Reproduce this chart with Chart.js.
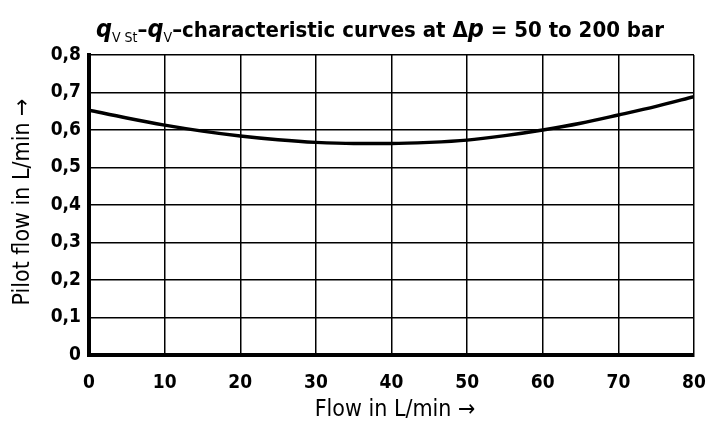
<!DOCTYPE html>
<html><head><meta charset="utf-8">
<script src="https://cdn.jsdelivr.net/npm/chart.js@4"></script>
<style>html,body{margin:0;padding:0;background:#fff}#wrap{width:712px;height:424px}</style>
</head><body><div id="wrap"><canvas id="c" width="712" height="424"></canvas></div>
<script>
const flowValues = [0,5,10,15,20,25,30,35,40,45,50,55,60,65,70,75,80];
const pilotValues = [0.653,0.632,0.613,0.597,0.584,0.574,0.567,0.564,0.564,0.567,0.573,0.585,0.600,0.618,0.640,0.663,0.689];
const xTicks = [0,10,20,30,40,50,60,70,80];
const yTicks = [0,0.1,0.2,0.3,0.4,0.5,0.6,0.7,0.8];
const xTitle = 'Flow in L/min \u2192';
const yTitle = 'Pilot flow in L/min \u2192';

const FF = "'Liberation Sans Narrow','DejaVu Sans Condensed',sans-serif";

const titlePlugin = {
  id:'customText',
  afterDraw(chart){
    const ctx = chart.ctx;
    ctx.save();
    ctx.fillStyle = '#000';
    ctx.textBaseline = 'alphabetic';
    const parts = [
      {t:'q', f:'italic bold 25px '+FF, dy:0},
      {t:'V St', f:'14px '+FF, dy:5},
      {t:'\u2013', f:'bold 22px '+FF, dy:0},
      {t:'q', f:'italic bold 25px '+FF, dy:0},
      {t:'V', f:'14px '+FF, dy:5},
      {t:'\u2013characteristic curves at \u0394', f:'bold 22px '+FF, dy:0},
      {t:'p', f:'italic bold 25px '+FF, dy:0},
      {t:' = 50 to 200 bar', f:'bold 22px '+FF, dy:0}
    ];
    let total = 0;
    parts.forEach(p=>{ctx.font=p.f; p.w=ctx.measureText(p.t).width; total+=p.w;});
    let x = 380 - total/2;
    const base = 37;
    parts.forEach(p=>{ctx.font=p.f; ctx.textAlign='left'; ctx.fillText(p.t,x,base+p.dy); x+=p.w;});
    ctx.font = '23px '+FF;
    ctx.textAlign = 'center';
    ctx.textBaseline = 'middle';
    ctx.fillText(xTitle, 395, 410);
    ctx.translate(23, 202);
    ctx.rotate(-Math.PI/2);
    ctx.fillText(yTitle, 0, 0);
    ctx.restore();
  }
};

new Chart(document.getElementById('c'), {
  type:'line',
  data:{
    datasets:[{
      data: flowValues.map((x,i)=>({x:x, y:pilotValues[i]})),
      borderColor:'#000',
      borderWidth:3.5,
      pointRadius:0,
      tension:0.4,
      cubicInterpolationMode:'monotone',
      fill:false
    }]
  },
  options:{
    responsive:false,
    animation:false,
    devicePixelRatio:1,
    layout:{padding:{top:55,right:18,left:0,bottom:0}},
    plugins:{legend:{display:false},tooltip:{enabled:false},title:{display:false}},
    scales:{
      x:{
        type:'linear', min:0, max:80,
        afterBuildTicks(s){ s.ticks = xTicks.map(v=>({value:v})); },
        afterFit(s){ s.height = 69; s.paddingLeft = 0; s.paddingRight = 0; },
        grid:{color:'#000', lineWidth:1.5, drawTicks:false},
        border:{color:'#000', width:4},
        ticks:{color:'#000', padding:17, font:{family:FF, size:19, weight:'bold'}, maxRotation:0,
          callback:(v)=>String(v)}
      },
      y:{
        type:'linear', min:0, max:0.8,
        afterBuildTicks(s){ s.ticks = yTicks.map(v=>({value:v})); },
        afterFit(s){ s.width = 89; s.paddingTop = 0; s.paddingBottom = 0; },
        grid:{color:'#000', lineWidth:1.5, drawTicks:false},
        border:{color:'#000', width:4},
        ticks:{color:'#000', padding:8, font:{family:FF, size:19, weight:'bold'},
          callback:(v)=> v===0 ? '0' : v.toFixed(1).replace('.',',')}
      }
    }
  },
  plugins:[titlePlugin]
});
</script>
</body></html>
